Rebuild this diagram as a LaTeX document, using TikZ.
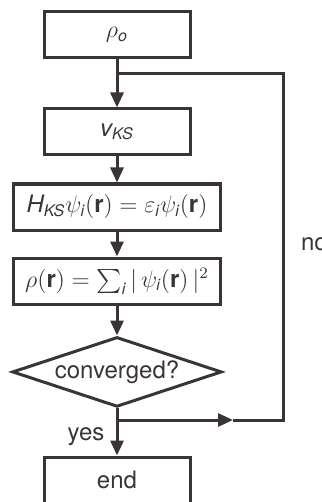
\documentclass[tikz,border=0pt]{standalone}
\usepackage{amsmath,amssymb}
\usepackage{fontspec}
\setmainfont{TeX Gyre Heros}
\usepackage{tikz}
\usepackage{xcolor}
\usetikzlibrary{arrows.meta, positioning, shapes.geometric}
\definecolor{lineGray}{RGB}{58,52,52}
\newcommand{\sv}[1]{\textit{#1}}

\begin{document}
\begin{tikzpicture}[
    x=0.5pt, y=-0.5pt,
    every node/.style={font=\fontsize{12}{14}\selectfont, text=lineGray},
    box/.style    ={rectangle, draw=lineGray, line width=1.5pt, inner sep=1pt, minimum width=73pt, minimum height=23pt},
    widebox/.style={box, minimum width=103.5pt},
    decide/.style ={diamond, draw=lineGray, line width=1.5pt, aspect=3, inner sep=1pt, minimum width=96.5pt, minimum height=31.5pt},
    arrow/.style  ={-{Triangle[length=7.5pt, width=6.5pt]}, line width=1.5pt, draw=lineGray},
    link/.style   ={line width=1.5pt, draw=lineGray}
]
\useasboundingbox (0,0) rectangle (321,502);
\clip (0,0) rectangle (321,502);
\node[box] (rho0) at (117,35) {$\rho_{\sv{o}}$};
\node[box, below=24pt of rho0] (vks) {$\sv{v}_{\sv{KS}}$};
\node[widebox, below=13pt of vks] (kseq) {$\sv{H}_{\sv{KS}}\psi_{\sv{i}}(\textbf{r})=\varepsilon_{\sv{i}}\psi_{\sv{i}}(\textbf{r})$};
\node[widebox, below=12.5pt of kseq] (dens) {$\rho(\textbf{r})=\sum_{\sv{i}}|\,\psi_{\sv{i}}(\textbf{r})\,|^2$};
\node[decide, below=15pt of dens] (conv) {converged?};
\node[box] (stop) at (117,480) {end};
\coordinate (split) at (117,74);
\coordinate (merge) at (117,420);
\coordinate (mid) at (233,420);
\coordinate (loop) at (283,420);
\node[anchor=west] (no) at (294,244) {no};
\node (yes) at (86,437) {yes};
\draw[arrow] (rho0) -- (vks);
\draw[arrow] (vks) -- (kseq);
\draw[arrow] (kseq) -- (dens);
\draw[arrow] (dens) -- (conv);
\draw[arrow] (conv) -- (stop);
\draw[arrow] (merge) -- (mid);
\draw[link] (mid) -- (loop) |- (split);
\end{tikzpicture}
\end{document}
